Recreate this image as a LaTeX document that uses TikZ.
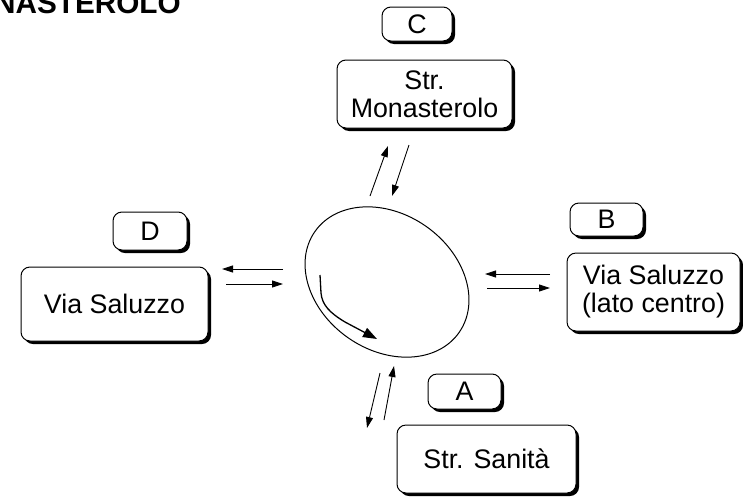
\documentclass[tikz,border=0pt]{standalone}
\usepackage{fontspec}
\setmainfont{Liberation Sans}
\usetikzlibrary{arrows.meta,shadows,shapes.geometric}
\begin{document}
\begin{tikzpicture}[x=1pt,y=1pt,
  box/.style={draw, line width=1pt, rounded corners=9pt, fill=white, align=center,
    font=\fontsize{26.8}{28}\selectfont, inner sep=0pt,
    drop shadow={shadow xshift=3pt, shadow yshift=-3pt, opacity=1, fill=black}},
  arr/.style={line width=0.9pt, -{Triangle[length=11pt,width=7pt]}},
  title/.style={font=\fontsize{29.7}{32}\selectfont\bfseries, inner sep=0pt, anchor=base west}]
\useasboundingbox (0,0) rectangle (743,-498);

\node[title] (ttl) at (-6,-13) {NASTEROLO};

% boxes
\node[box, minimum width=70pt, minimum height=34pt] (labC) at (417,-24) {C};
\node[box, minimum width=175pt, minimum height=68pt] (strM) at (424.5,-94) {Str.\\Monasterolo};
\node[box, minimum width=74pt, minimum height=38pt] (labD) at (150,-231) {D};
\node[box, minimum width=187pt, minimum height=74pt] (viaS) at (114.5,-304) {Via Saluzzo};
\node[box, minimum width=73pt, minimum height=33pt] (labB) at (606.5,-219.5) {B};
\node[box, minimum width=173pt, minimum height=78pt] (viaC) at (653.5,-292) {Via Saluzzo\\(lato centro)};
\node[box, minimum width=73pt, minimum height=35pt] (labA) at (464.5,-391.5) {A};
\node[box, minimum width=179pt, minimum height=68pt] (strS) at (486.5,-459) {Str. Sanità};

% roundabout
\node[draw, ellipse, line width=1pt, minimum width=176pt, minimum height=136pt, rotate=-35, inner sep=0pt] (rnd) at (387,-282) {};

% arrow end points
\coordinate (dl1) at (283,-269); \coordinate (dl2) at (222,-269);
\coordinate (dr1) at (226,-284); \coordinate (dr2) at (283,-284);
\coordinate (bl1) at (550,-274); \coordinate (bl2) at (485,-274);
\coordinate (br1) at (487,-288); \coordinate (br2) at (550,-288);
\coordinate (cu1) at (370,-196); \coordinate (cu2) at (388,-146);
\coordinate (cd1) at (409,-145); \coordinate (cd2) at (392,-196);
\coordinate (ad1) at (380,-373); \coordinate (ad2) at (367,-428);
\coordinate (au1) at (384,-420); \coordinate (au2) at (394,-366);

\draw[arr] (dl1) -- (dl2);
\draw[arr] (dr1) -- (dr2);
\draw[arr] (bl1) -- (bl2);
\draw[arr] (br1) -- (br2);
\draw[arr] (cu1) -- (cu2);
\draw[arr] (cd1) -- (cd2);
\draw[arr] (ad1) -- (ad2);
\draw[arr] (au1) -- (au2);

% inner circulating arrow
\coordinate (ia1) at (320,-275);
\coordinate (ia2) at (377,-339);
\draw[line width=1.3pt, -{Triangle[length=14pt,width=10pt]}]
  (ia1) -- (321,-293) .. controls (322,-305) and (330,-313) .. (345,-322) -- (ia2);
\end{tikzpicture}
\end{document}
